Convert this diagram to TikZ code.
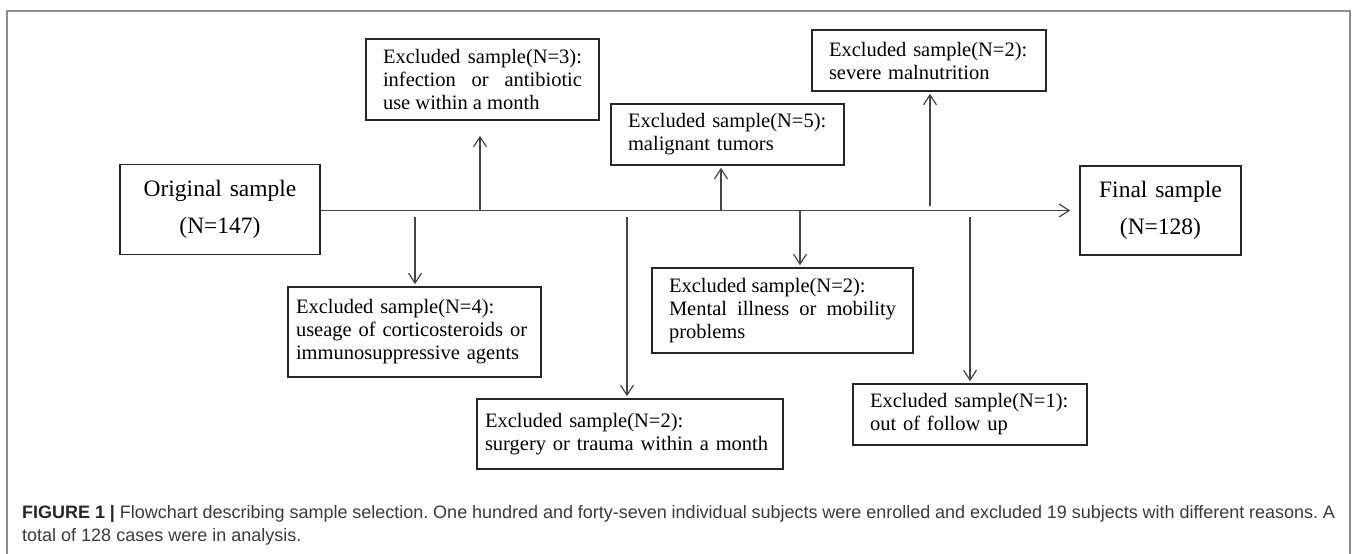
\documentclass[tikz,border=0pt]{standalone}
\usepackage{fontspec}
\setmainfont{Liberation Serif}
\newfontfamily\capfont{Liberation Sans}
\usetikzlibrary{arrows.meta}
\definecolor{linegray}{HTML}{454545}
\definecolor{framegray}{HTML}{8C8C8C}
\definecolor{capgray}{HTML}{3A3A3A}

\begin{document}
\begin{tikzpicture}[x=1pt, y=-1pt, font=\fontsize{20.5}{23}\selectfont,
  box/.style={draw=black!85, line width=1.6pt, inner xsep=17pt, inner ysep=0pt,
    align=left},
  mainbox/.style={box, align=center, font=\fontsize{23.5}{37}\selectfont},
  exbox/.style={box, align=justify},
  flow/.style={draw=linegray, line width=1.2pt,
    -{Straight Barb[length=10pt,width=13pt]}}]
\useasboundingbox (0,0) rectangle (1357,554);
\draw[framegray, line width=1.5pt] (7,570) -- (7,11) -- (1350,11) -- (1350,570);
% start and end
\node[mainbox, text width=166pt, minimum height=90pt] (orig) at (220,209.5) {Original sample\\(N=147)};
\node[mainbox, text width=127pt, minimum height=89pt] (fin) at (1160.5,210.5) {Final sample\\(N=128)};
% exclusions above the line
\node[exbox, text width=199pt, minimum height=81pt] (ex3) at (482.5,79.5)
  {Excluded sample(N=3):\linebreak infection or antibiotic\linebreak use within a month};
\node[box, text width=199pt, minimum height=61pt] (ex5) at (727.5,134.5)
  {Excluded sample(N=5):\\ malignant tumors};
\node[box, text width=200pt, minimum height=61pt] (exmal) at (929,60.5)
  {Excluded sample(N=2):\\ severe malnutrition};
% exclusions below the line
\node[box, inner xsep=8pt, text width=237pt, minimum height=90pt] (ex4) at (414.5,332)
  {Excluded sample(N=4):\\ useage of corticosteroids or\\ immunosuppressive agents};
\node[box, inner xsep=8pt, text width=290pt, minimum height=70pt] (exsur) at (630,434)
  {Excluded sample(N=2):\\ surgery or trauma within a month};
\node[exbox, text width=227pt, minimum height=85pt] (exmen) at (782.5,310.5)
  {Excluded sample(N=2):\newline Mental illness or mobility\linebreak problems};
\node[box, text width=200pt, minimum height=61pt] (ex1) at (970,414.5)
  {Excluded sample(N=1):\\ out of follow up};
\node[text=capgray, font=\capfont\fontsize{18}{23}\selectfont\frenchspacing, text width=1313pt,
  align=justify, inner sep=0pt, anchor=north west] (cap) at (22,505)
  {\textbf{\color{black!85}FIGURE 1 |} Flowchart describing sample selection. One hundred and forty-seven individual subjects were enrolled and excluded 19 subjects with different reasons. A\linebreak total of 128 cases were in analysis.};
% branch points on the main line
\coordinate (u3) at (480,210.5);
\coordinate (u5) at (721,210.5);
\coordinate (um) at (930,206);
\coordinate (d4) at (415,217);
\coordinate (ds) at (627,217);
\coordinate (dm) at (800,210.5);
\coordinate (d1) at (970,217);
\draw[flow, shorten >=9pt] (orig.east |- fin.west) -- (fin.west);
\foreach \c/\n/\g in {u3/ex3/15pt, u5/ex5/2pt, um/exmal/2pt}
  \draw[flow, shorten >=\g] (\c) -- (\c |- \n.south);
\foreach \c/\n in {d4/ex4, ds/exsur, dm/exmen, d1/ex1}
  \draw[flow, shorten >=2pt] (\c) -- (\c |- \n.north);
\end{tikzpicture}
\end{document}
